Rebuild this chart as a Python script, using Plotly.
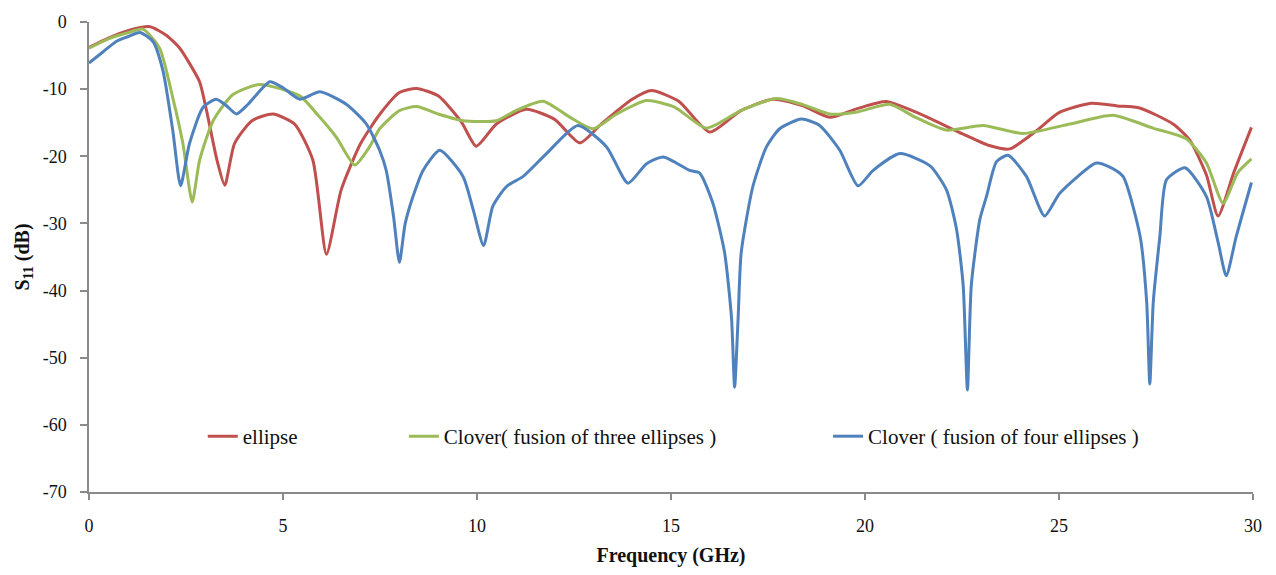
import plotly.graph_objects as go

# ---------------- data ----------------
freq_ellipse = [0, 0.5, 1.0, 1.57, 2.0, 2.34, 2.51, 2.85, 3.03, 3.3, 3.5, 3.75, 4.2, 4.74, 5.3, 5.77,
                6.12, 6.5, 7.0, 7.5, 8.0, 8.44, 9.0, 9.6, 9.98, 10.5, 11.27, 12.0, 12.65, 13.2,
                14.0, 14.5, 15.2, 16.0, 16.8, 17.63, 18.4, 19.09, 19.8, 20.55, 21.3, 22.53,
                23.2, 23.73, 24.42, 25.0, 25.83, 26.5, 27.08, 27.94, 28.37, 28.8, 29.1, 29.5, 29.96]
s11_ellipse = [-3.8, -2.4, -1.3, -0.7, -2.0, -3.9, -5.4, -8.9, -13.2, -20.6, -24.3, -18.1, -14.7, -13.7,
               -15.2, -20.6, -34.6, -25.0, -18.1, -13.7, -10.5, -9.9, -11.0, -14.9, -18.5, -15.2,
               -13.0, -14.5, -18.0, -15.2, -11.5, -10.2, -11.8, -16.4, -13.2, -11.5, -12.5, -14.2,
               -12.9, -11.85, -13.4, -16.7, -18.4, -18.9, -16.2, -13.5, -12.1, -12.5, -12.8, -15.2,
               -17.6, -22.8, -28.9, -22.5, -15.7]

freq_three = [0, 0.5, 1.0, 1.39, 1.82, 2.16, 2.42, 2.66, 2.85, 3.2, 3.71, 4.4, 5.43, 5.95, 6.38,
              6.85, 7.23, 7.49, 8.0, 8.44, 9.0, 9.64, 10.5, 11.0, 11.7, 12.4, 12.99, 13.6, 14.37,
              15.1, 15.91, 16.8, 17.72, 18.4, 19.09, 19.8, 20.64, 21.3, 22.1, 23.04, 24.07, 25.28,
              26.39, 27.42, 28.28, 28.8, 29.23, 29.6, 29.96]
s11_three = [-3.9, -2.5, -1.6, -1.07, -3.9, -11.3, -18.1, -26.8, -20.6, -14.7, -10.8, -9.3, -11.0,
             -14.2, -17.2, -21.3, -18.6, -15.9, -13.2, -12.6, -13.7, -14.7, -14.7, -13.2, -11.8,
             -14.2, -15.9, -13.7, -11.7, -12.7, -15.8, -13.2, -11.4, -12.3, -13.7, -13.4, -12.25,
             -14.2, -16.1, -15.4, -16.6, -15.2, -13.9, -15.8, -17.4, -21.0, -27.0, -22.5, -20.4]

freq_four = [0, 0.35, 0.7, 1.0, 1.31, 1.65, 1.91, 2.16, 2.36, 2.59, 2.94, 3.28, 3.55, 3.8, 4.1,
             4.66, 5.0, 5.43, 5.95, 6.63, 7.15, 7.49, 7.66, 7.85, 8.0, 8.15, 8.35, 8.61, 9.04,
             9.64, 9.9, 10.17, 10.41, 10.76, 11.19, 11.79, 12.6, 13.34, 13.89, 14.37, 14.8,
             15.48, 15.74, 16.08, 16.38, 16.56, 16.64, 16.73, 16.81, 17.11, 17.46, 17.8, 18.36,
             18.83, 19.35, 19.82, 20.21, 20.9, 21.67, 22.1, 22.36, 22.53, 22.64, 22.74, 22.96,
             23.13, 23.39, 23.69, 24.16, 24.63, 25.02, 25.96, 26.31, 26.65, 27.09, 27.26, 27.34,
             27.43, 27.6, 27.77, 28.25, 28.8, 29.1, 29.31, 29.57, 29.96]
s11_four = [-6.1, -4.5, -2.9, -2.2, -1.56, -2.9, -7.35, -16.2, -24.4, -18.1, -12.7, -11.5, -12.5,
            -13.7, -12.25, -8.9, -9.8, -11.5, -10.4, -12.25, -15.2, -19.1, -22.1, -29.0, -35.8,
            -30.0, -26.0, -22.1, -19.1, -23.0, -27.9, -33.3, -27.4, -24.5, -23.0, -19.6, -15.4,
            -18.6, -24.0, -21.1, -20.1, -22.1, -22.5, -27.0, -34.3, -44.1, -54.4, -44.1, -34.3,
            -24.5, -18.6, -15.9, -14.45, -15.4, -19.1, -24.4, -22.1, -19.6, -21.4, -25.0, -30.9,
            -39.2, -54.8, -39.2, -29.4, -26.0, -20.8, -19.85, -23.0, -28.9, -25.5, -21.0, -21.6,
            -23.0, -31.9, -41.7, -53.9, -41.7, -31.9, -23.5, -21.7, -26.0, -32.8, -37.8, -31.9, -23.9]

names = ["ellipse", "Clover( fusion of three ellipses )", "Clover ( fusion of four ellipses )"]
colors = ["#C0504D", "#9BBB59", "#4F81BD"]
x_ticks = [0, 5, 10, 15, 20, 25, 30]
y_ticks = [0, -10, -20, -30, -40, -50, -60, -70]

FONT = "Liberation Serif"

fig = go.Figure()
series = [(freq_ellipse, s11_ellipse), (freq_three, s11_three), (freq_four, s11_four)]
legends = ["legend", "legend2", "legend3"]
for (xs, ys), nm, col, lg in zip(series, names, colors, legends):
    fig.add_trace(go.Scatter(x=xs, y=ys, name=nm, mode="lines",
                             line=dict(color=col, width=3, shape="spline", smoothing=0.6),
                             legend=lg))

W0, W1 = 89.3, 1252.7
def px2paper(px):
    return (px - W0) / (W1 - W0)

leg_common = dict(orientation="h", yanchor="middle", y=0.118, xanchor="left",
                  font=dict(family=FONT, size=21, color="#111111"),
                  bgcolor="rgba(0,0,0,0)", borderwidth=0, itemwidth=30)

fig.update_layout(
    width=1276, height=575,
    margin=dict(l=89, r=23, t=17, b=82),
    paper_bgcolor="white", plot_bgcolor="white",
    showlegend=True,
    legend=dict(x=px2paper(203), **leg_common),
    legend2=dict(x=px2paper(404), **leg_common),
    legend3=dict(x=px2paper(828), **leg_common),
    xaxis=dict(range=[0, 30], tickvals=x_ticks, ticktext=[str(v) for v in x_ticks],
               showgrid=False, zeroline=False, showline=True, linecolor="#8a8a8a", linewidth=1.5,
               ticks="outside", ticklen=6, tickcolor="#8a8a8a", tickwidth=1.5,
               tickfont=dict(family=FONT, size=18, color="#111111"),
               ticklabelstandoff=11,
               title=dict(text="<b>Frequency (GHz)</b>", font=dict(family=FONT, size=20, color="#111111"),
                          standoff=13)),
    yaxis=dict(range=[-70, 0], tickvals=y_ticks, ticktext=[str(v) for v in y_ticks],
               showgrid=False, zeroline=False, showline=True, linecolor="#8a8a8a", linewidth=1.5,
               ticks="outside", ticklen=7, tickcolor="#8a8a8a", tickwidth=1.5,
               tickfont=dict(family=FONT, size=18, color="#111111"),
               ticklabelstandoff=10,
               title=dict(text="<b>S<sub>11</sub> (dB)</b>", font=dict(family=FONT, size=20, color="#111111"),
                          standoff=8)),
)

fig.write_html("out.html")
